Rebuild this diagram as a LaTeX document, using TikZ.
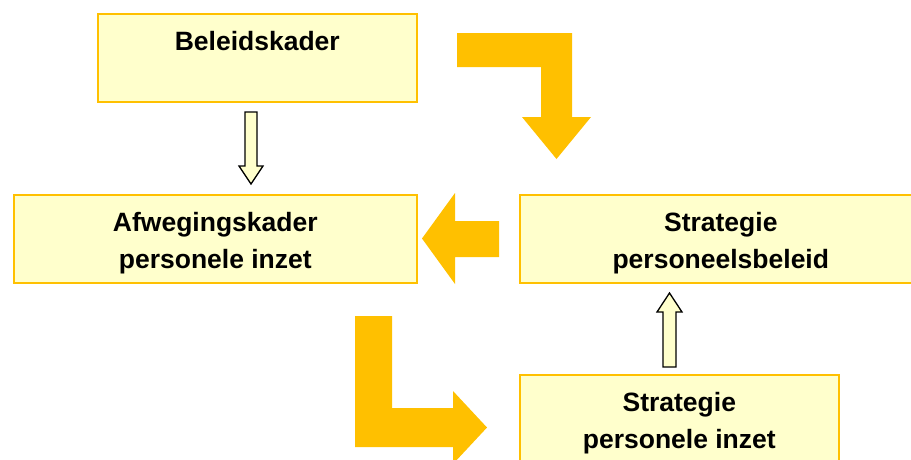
\documentclass[tikz,border=0pt]{standalone}
\usepackage{fontspec}
\setmainfont{Liberation Sans}
\usepackage{tikz}
\usetikzlibrary{positioning}
\definecolor{gold}{HTML}{FFC000}
\definecolor{paleyel}{HTML}{FFFFCC}

\tikzset{
  kader/.style={draw=gold, line width=1.6pt, fill=paleyel, rectangle, inner sep=0pt,
    align=center, anchor=north west, font=\fontsize{26.5}{37}\selectfont\bfseries},
  tweeregel/.style={text height=65pt},
  blok/.style={fill=gold, draw=none},
  holpijl/.style={fill=paleyel, draw=black, line width=1.3pt, line join=miter}
}

\begin{document}
\begin{tikzpicture}[x=1pt, y=-1pt]
        \useasboundingbox (0,0) rectangle (911,459);
        \clip (0,0) rectangle (911,459);

        % boxes
        \node (beleid) at (97,13) [kader, minimum width=319, minimum height=88,
            text height=19pt, text depth=33pt] {Beleidskader};
        \node (afweging) at (13,194) [kader, tweeregel, minimum width=403, minimum height=88] {Afwegingskader\\personele inzet};
        \node (stratbeleid) at (519,194) [kader, tweeregel, minimum width=402, minimum height=88] {Strategie\\personeelsbeleid};
        \node (stratinzet) at (519,374) [kader, tweeregel, minimum width=319, minimum height=88] {Strategie\\personele inzet};

        % thin arrows
        \draw[holpijl] (245,112) -- (257,112) -- (257,166) -- (263,166) -- (251,184)
            -- (239,166) -- (245,166) -- cycle;
        \draw[holpijl] (663,367) -- (676,367) -- (676,312) -- (682,312) -- (669.5,293)
            -- (657,312) -- (663,312) -- cycle;

        % big arrows
        \fill[blok] (457,33) -- (572,33) -- (572,117) -- (591,117) -- (556.5,159)
            -- (522,117) -- (541,117) -- (541,67) -- (457,67) -- cycle;
        \fill[blok] (499,221) -- (455,221) -- (455,193) -- (422,238.5) -- (455,284)
            -- (455,257) -- (499,257) -- cycle;
        \fill[blok] (355,316) -- (392,316) -- (392,408) -- (453,408) -- (453,391)
            -- (487,427.5) -- (453,464) -- (453,447) -- (355,447) -- cycle;
    \end{tikzpicture}
\end{document}
